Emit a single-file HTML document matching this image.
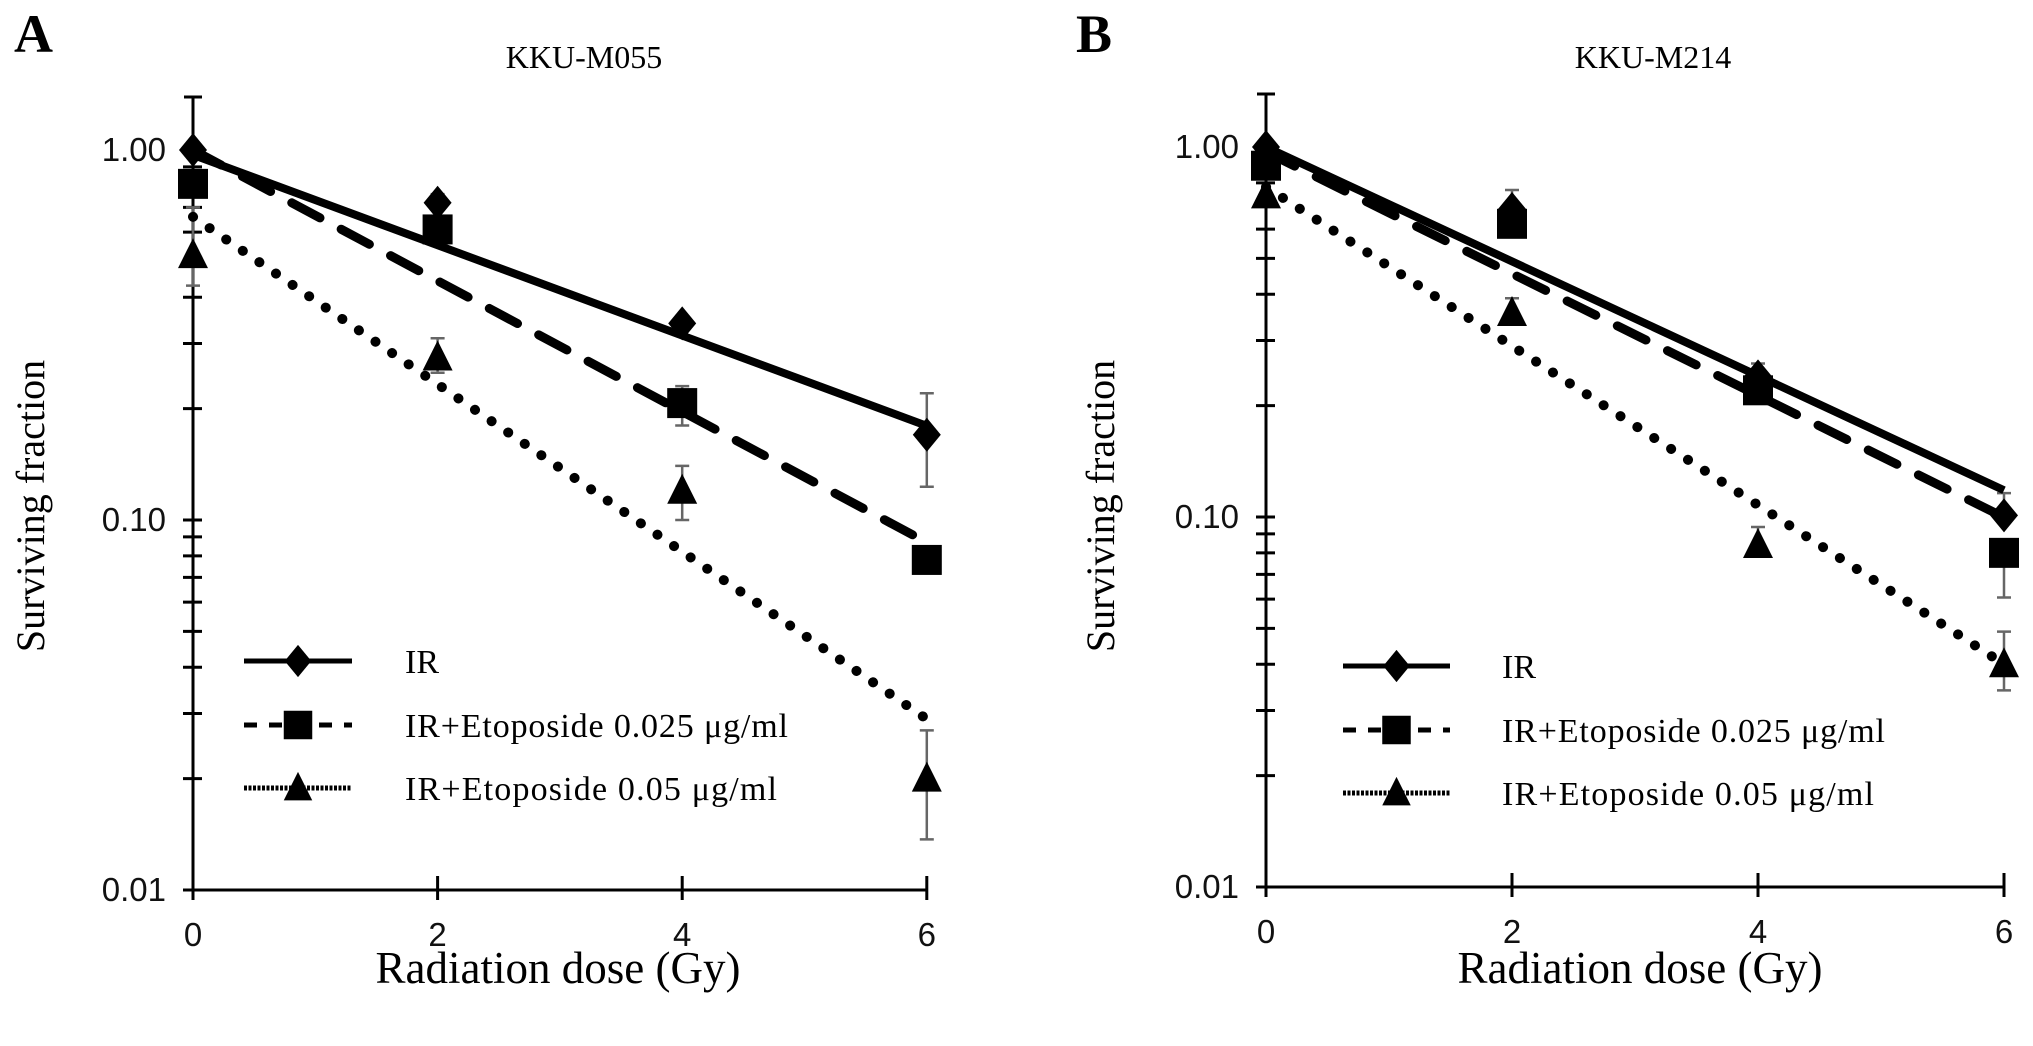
<!DOCTYPE html>
<html><head><meta charset="utf-8"><style>
html,body{margin:0;padding:0;background:#fff;}
svg{display:block;}
</style></head><body>
<svg id="fig" width="2033" height="1046" viewBox="0 0 2033 1046" xmlns="http://www.w3.org/2000/svg">
<g id="root"></g>
</svg>
<script>
const doses = [0, 2, 4, 6];
const seriesNames = ["IR", "IR+Etoposide 0.025 \u03bcg/ml", "IR+Etoposide 0.05  \u03bcg/ml"];
const yTickValues = [1, 0.1, 0.01];
const yTickLabels = ["1.00", "0.10", "0.01"];
const xTickLabels = ["0", "2", "4", "6"];
// Panel A (KKU-M055)
const aIR = [1.00, 0.72, 0.34, 0.17];
const aIRHi = [1.00, 0.76, 0.35, 0.22];
const aIRLo = [1.00, 0.72, 0.33, 0.123];
const aSq = [0.81, 0.61, 0.207, 0.078];
const aSqHi = [0.81, 0.63, 0.23, 0.080];
const aSqLo = [0.81, 0.58, 0.18, 0.075];
const aTri = [0.52, 0.275, 0.12, 0.020];
const aTriHi = [0.70, 0.31, 0.14, 0.027];
const aTriLo = [0.43, 0.25, 0.10, 0.0137];
const aFitA = [0.97, 1.00, 0.66];
const aFitB = [0.281, 0.407, 0.521];
// Panel B (KKU-M214)
const bIR = [1.00, 0.68, 0.24, 0.101];
const bIRHi = [1.00, 0.765, 0.26, 0.116];
const bIRLo = [1.00, 0.68, 0.24, 0.100];
const bSq = [0.89, 0.62, 0.22, 0.080];
const bSqHi = [0.89, 0.64, 0.23, 0.080];
const bSqLo = [0.89, 0.60, 0.21, 0.0606];
const bTri = [0.74, 0.356, 0.084, 0.040];
const bTriHi = [0.74, 0.39, 0.094, 0.049];
const bTriLo = [0.74, 0.356, 0.084, 0.034];
const bFitA = [1.00, 0.97, 0.78];
const bFitB = [0.356, 0.379, 0.495];

const NS = "http://www.w3.org/2000/svg";
const root = document.getElementById("root");
function mk(tag, attrs, parent) {
  const e = document.createElementNS(NS, tag);
  for (const k in attrs) e.setAttribute(k, attrs[k]);
  (parent || root).appendChild(e);
  return e;
}
const SERIF = '"Liberation Serif", serif';
const SANS = '"Liberation Sans", sans-serif';
const dashes = ["none", "32 24", "0.1 20"];

function marker(kind, cx, cy, g, s) {
  s = s || 1;
  let e;
  if (kind === 0) e = mk("polygon", {points: `${cx},${cy-17*s} ${cx+14*s},${cy} ${cx},${cy+17*s} ${cx-14*s},${cy}`, fill: "#000"}, g);
  else if (kind === 1) e = mk("rect", {x: cx-15*s, y: cy-15*s, width: 30*s, height: 30*s, fill: "#000"}, g);
  else e = mk("polygon", {points: `${cx},${cy-17*s} ${cx+15*s},${cy+13*s} ${cx-15*s},${cy+13*s}`, fill: "#000"}, g);
  return e;
}

function panel(P) {
  const g = mk("g", {});
  
  
  const xs = d => P.x0 + d * P.xu;
  const ys = v => P.y1 - Math.log10(v) * P.dec;
  const L = mk("text", {x: P.letterX, y: 52, "font-family": SERIF, "font-size": 54, "font-weight": "bold"}, g);
  L.textContent = P.letter;
  
  
  const T = mk("text", {x: P.titleX, y: 68, "font-family": SERIF, "font-size": 32, "text-anchor": "middle"}, g);
  T.textContent = P.title;
  
  
  const yb = ys(0.01);
  const ya = mk("line", {x1: P.x0, y1: P.yTop, x2: P.x0, y2: yb, stroke: "#000", "stroke-width": 3}, g);
  
  
  mk("line", {x1: P.x0-9, y1: P.yTop, x2: P.x0+9, y2: P.yTop, stroke: "#000", "stroke-width": 3}, g);
  const xa = mk("line", {x1: P.x0-10, y1: yb, x2: xs(6), y2: yb, stroke: "#000", "stroke-width": 3}, g);
  
  
  for (let dec = -2; dec <= 0; dec++) {
    for (let m = 1; m <= 9; m++) {
      const v = m * Math.pow(10, dec);
      if (v > 1.0001) continue;
      mk("line", {x1: P.x0-10, y1: ys(v), x2: P.x0+9, y2: ys(v), stroke: "#000", "stroke-width": 3}, g);
    }
  }
  yTickValues.forEach((v, i) => {
    const t = mk("text", {x: P.x0-27, y: ys(v)+11, "font-family": SANS, "font-size": 33, "text-anchor": "end", fill: "#111"}, g);
    t.textContent = yTickLabels[i];
    
    
  });
  doses.forEach((d, i) => {
    mk("line", {x1: xs(d), y1: yb-14, x2: xs(d), y2: yb+10, stroke: "#000", "stroke-width": 3}, g);
    const t = mk("text", {x: xs(d), y: yb+56, "font-family": SANS, "font-size": 33, "text-anchor": "middle", fill: "#111"}, g);
    t.textContent = xTickLabels[i];
    
    
  });
  const xt = mk("text", {x: P.xTitleX, y: 983, "font-family": SERIF, "font-size": 45, "text-anchor": "middle"}, g);
  xt.textContent = "Radiation dose (Gy)";
  
  
  const yt = mk("text", {x: 0, y: 0, "font-family": SERIF, "font-size": 40, "text-anchor": "middle", transform: `translate(${P.yTitleX},506) rotate(-90)`}, g);
  yt.textContent = "Surviving fraction";
  
  
  P.series.forEach((s, k) => {
    const sg = mk("g", {}, g);
    
    
    doses.forEach((d, i) => {
      if (s.hi[i] - s.lo[i] <= 0) return;
      const x = xs(d);
      const eb = mk("path", {d: `M${x},${ys(s.hi[i])}V${ys(s.lo[i])}M${x-7},${ys(s.hi[i])}H${x+7}M${x-7},${ys(s.lo[i])}H${x+7}`, stroke: "#666", "stroke-width": 2.5, fill: "none"}, sg);
      
      
    });
    doses.forEach((d, i) => {
      const m = marker(k, xs(d), ys(s.mean[i]), sg);
      
      
    });
    const a = P.fitA[k], b = P.fitB[k];
    const f = mk("line", {x1: xs(0), y1: ys(a), x2: xs(6), y2: ys(a*Math.exp(-b*6)), stroke: "#000", "stroke-width": k === 0 ? 8 : (k === 1 ? 9 : 10), "stroke-dasharray": dashes[k], "stroke-linecap": k === 0 ? "butt" : "round"}, sg);
    
    
  });
  const lg = mk("g", {}, g);
  
  
  seriesNames.forEach((n, k) => {
    const y = P.legY[k];
    const ln = mk("line", {x1: P.legX1, y1: y, x2: P.legX2, y2: y, stroke: "#000", "stroke-width": 5, "stroke-dasharray": ["none", "13 12", "3 1.5"][k]}, lg);
    
    
    marker(k, (P.legX1+P.legX2)/2, y, lg, 0.95);
    const t = mk("text", {x: P.legTX, y: y+12, "font-family": SERIF, "font-size": 34}, lg);
    t.textContent = n;
    if (k > 0) t.setAttribute("textLength", k === 1 ? 383 : 372);
    
    
  });
}

panel({name: "panel-a", letter: "A", letterX: 14, title: "KKU-M055", titleX: 584,
  x0: 193, xu: 122.3, y1: 150, dec: 370, yTop: 97, xTitleX: 558, yTitleX: 44,
  legX1: 244, legX2: 352, legTX: 405, legY: [661, 725, 788],
  fitA: aFitA, fitB: aFitB,
  series: [{mean: aIR, hi: aIRHi, lo: aIRLo}, {mean: aSq, hi: aSqHi, lo: aSqLo}, {mean: aTri, hi: aTriHi, lo: aTriLo}]});
panel({name: "panel-b", letter: "B", letterX: 1076, title: "KKU-M214", titleX: 1653,
  x0: 1266, xu: 123, y1: 147, dec: 370, yTop: 94, xTitleX: 1640, yTitleX: 1114,
  legX1: 1343, legX2: 1450, legTX: 1502, legY: [666, 730, 793],
  fitA: bFitA, fitB: bFitB,
  series: [{mean: bIR, hi: bIRHi, lo: bIRLo}, {mean: bSq, hi: bSqHi, lo: bSqLo}, {mean: bTri, hi: bTriHi, lo: bTriLo}]});
</script>
</body></html>
